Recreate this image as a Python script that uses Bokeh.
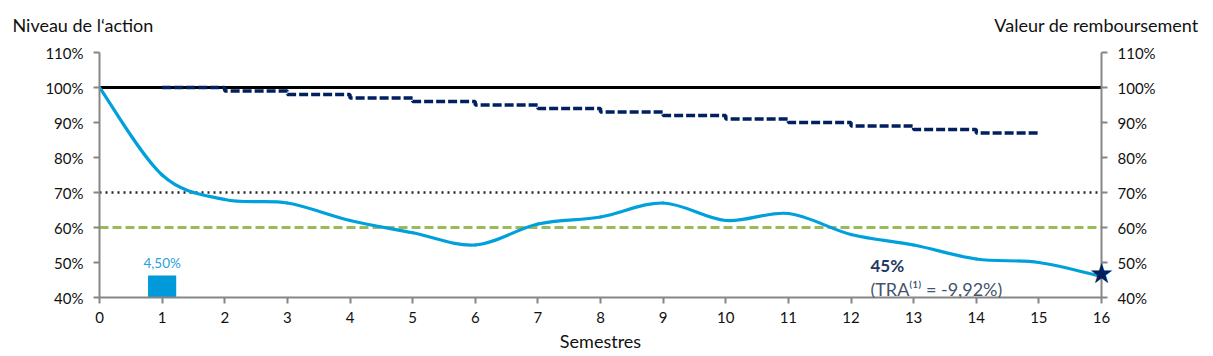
from bokeh.plotting import figure
from bokeh.models import LinearAxis, Range1d, FixedTicker, PrintfTickFormatter, Label
from bokeh.embed import file_html
from bokeh.resources import INLINE

# ---------------- data ----------------
semestres = list(range(17))
niveau_action = [100, 75, 68, 67, 62, 58.5, 55, 61, 63, 67, 62, 64, 58, 55, 51, 50, 46]

remb_x = list(range(1, 16))
valeur_remboursement = [100, 99, 98, 97, 96, 95, 94, 93, 92, 91, 90, 89, 88, 87, 87]

coupon_x = [1]
coupon = [4.5]
coupon_label = "4,50%"

niveau_initial = 100
barriere_rappel = 70
barriere_capital = 60

final_label = "45%"
tra_label = "(TRA\u207d\u00b9\u207e = -9,92%)"

y_ticks = [40, 50, 60, 70, 80, 90, 100, 110]
x_ticks = semestres

FONT = "Lato"
BLUE = "#00A0DC"
NAVY = "#002060"
AXIS = "#868686"

# ---------------- figure ----------------
p = figure(width=1213, height=356, output_backend="svg", toolbar_location=None,
           x_range=Range1d(0, 16), y_range=Range1d(40, 110),
           min_border_left=99, min_border_right=112, min_border_top=52, min_border_bottom=59)
p.extra_y_ranges = {"bar": Range1d(0, 50)}
p.grid.visible = False
p.outline_line_color = None
p.background_fill_color = "white"

right = LinearAxis()
p.add_layout(right, "right")

for ax in [p.xaxis[0], p.yaxis[0], right]:
    ax.axis_line_color = AXIS
    ax.axis_line_width = 2
    ax.major_tick_line_color = AXIS
    ax.major_tick_line_width = 2
    ax.major_tick_out = 6
    ax.major_tick_in = 0
    ax.minor_tick_line_color = None
    ax.major_label_text_font = FONT
    ax.major_label_text_font_size = "15px"
    ax.major_label_text_color = "#111111"

for ax in [p.yaxis[0], right]:
    ax.ticker = FixedTicker(ticks=y_ticks)
    ax.formatter = PrintfTickFormatter(format="%d%%")
    ax.major_label_standoff = 10

xa = p.xaxis[0]
xa.ticker = FixedTicker(ticks=x_ticks)
xa.major_label_standoff = 8
xa.axis_label = "Semestres"
xa.axis_label_text_font = FONT
xa.axis_label_text_font_size = "18px"
xa.axis_label_text_font_style = "normal"
xa.axis_label_text_color = "#111111"
xa.axis_label_standoff = 4

# coupon bar
p.vbar(x=coupon_x, top=coupon, bottom=0, width=0.45, y_range_name="bar",
       fill_color="#009ADB", line_color=None)
p.add_layout(Label(x=coupon_x[0], y=coupon[0], y_range_name="bar", text=coupon_label,
                   text_align="center", text_baseline="bottom", y_offset=4,
                   text_font=FONT, text_font_size="13.5px", text_color="#2AA0DC"))

# horizontal reference lines
p.line([semestres[0], semestres[-1]], [barriere_capital] * 2, line_color="#9BBB59",
       line_width=3, line_dash="9 4")
p.line([semestres[0], semestres[-1]], [barriere_rappel] * 2, line_color="#262626",
       line_width=2.5, line_dash="2 4")
p.line([semestres[0], semestres[-1]], [niveau_initial] * 2, line_color="black", line_width=3)

# redemption value step line
p.step(remb_x, valeur_remboursement, mode="after", line_color=NAVY, line_width=3.5,
       line_dash="9 3")

# smoothed share level curve (cubic Bezier segments through the data points)
n = len(semestres)
x0, y0, x1, y1, cx0, cy0, cx1, cy1 = [], [], [], [], [], [], [], []
for i in range(n - 1):
    pm = max(i - 1, 0)
    pp = min(i + 2, n - 1)
    x0.append(semestres[i]); y0.append(niveau_action[i])
    x1.append(semestres[i + 1]); y1.append(niveau_action[i + 1])
    cx0.append(semestres[i] + (semestres[i + 1] - semestres[pm]) / 6)
    cy0.append(niveau_action[i] + (niveau_action[i + 1] - niveau_action[pm]) / 6)
    cx1.append(semestres[i + 1] - (semestres[pp] - semestres[i]) / 6)
    cy1.append(niveau_action[i + 1] - (niveau_action[pp] - niveau_action[i]) / 6)
p.bezier(x0=x0, y0=y0, x1=x1, y1=y1, cx0=cx0, cy0=cy0, cx1=cx1, cy1=cy1,
         line_color=BLUE, line_width=3.2, line_cap="round")

# final star (placed in the right side panel so it is not clipped by the frame)
p.add_layout(Label(x=semestres[-1], y=niveau_action[-1], text="\u2605", y_offset=3,
                   text_align="center", text_baseline="middle",
                   text_font="DejaVu Sans", text_font_size="28px", text_color=NAVY), "right")

# annotations
p.add_layout(Label(x=12.31, y=49.2, text=final_label, text_font=FONT,
                   text_font_size="17px", text_font_style="bold", text_color="#1F3864",
                   text_baseline="alphabetic"))
p.add_layout(Label(x=12.31, y=42.5, text=tra_label, text_font=FONT,
                   text_font_size="18px", text_color="#44546A",
                   text_baseline="alphabetic"))

# axis titles (in the top side panel)
p.add_layout(Label(x=-1.39, y=117.8, text="Niveau de l\u2018action", text_font=FONT,
                   text_font_size="18px", text_color="#111111", text_baseline="alphabetic"),
             "above")
p.add_layout(Label(x=17.55, y=117.8, text="Valeur de remboursement", text_font=FONT,
                   text_font_size="18px", text_color="#111111", text_baseline="alphabetic",
                   text_align="right"), "above")

open("out.html", "w").write(file_html(p, INLINE))
